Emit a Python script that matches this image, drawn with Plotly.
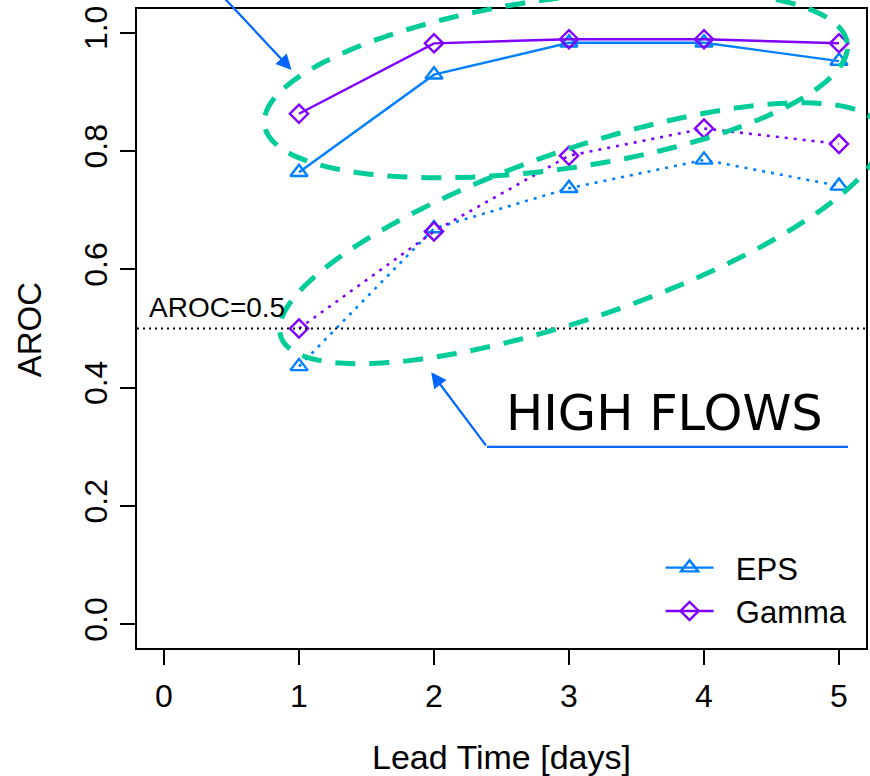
import numpy as np
import plotly.graph_objects as go

# ---------------- data ----------------
lead_time = [1, 2, 3, 4, 5]
eps_low = [0.764, 0.929, 0.983, 0.983, 0.952]      # solid (upper group)
gamma_low = [0.863, 0.982, 0.989, 0.989, 0.982]
eps_high = [0.436, 0.669, 0.737, 0.785, 0.741]     # dotted (HIGH FLOWS)
gamma_high = [0.500, 0.664, 0.792, 0.838, 0.812]
x_ticks = [0, 1, 2, 3, 4, 5]
y_ticks = [0.0, 0.2, 0.4, 0.6, 0.8, 1.0]
y_tick_labels = ["0.0", "0.2", "0.4", "0.6", "0.8", "1.0"]
ref_level = 0.5

# ---------------- layout constants ----------------
W, H = 870, 776
ML, MR, MT, MB = 137, 2, 9, 128
PW, PH = W - ML - MR, H - MT - MB
XR = [-0.2, 5.2]
YR = [-0.04, 1.04]

EPS_C = "#0080ff"
GAM_C = "#8000ff"
ELL_C = "#00cc99"
ARR_C = "#0066ff"
FONT = "Liberation Sans, Arial, sans-serif"
NB = "\u00a0"


def data_to_px(x, y):
    px = ML + (x - XR[0]) / (XR[1] - XR[0]) * PW
    py = MT + (YR[1] - y) / (YR[1] - YR[0]) * PH
    return px, py


def px_to_paper(px, py):
    return (px - ML) / PW, (H - MB - py) / PH


def ellipse_path(cx, cy, a, b, ang_deg, n=240):
    pcx, pcy = data_to_px(cx, cy)
    th = np.deg2rad(ang_deg)
    t = np.linspace(0, 2 * np.pi, n, endpoint=False)
    dx = a * np.cos(t) * np.cos(th) - b * np.sin(t) * np.sin(th)
    dy = a * np.cos(t) * np.sin(th) + b * np.sin(t) * np.cos(th)
    xs, ys = px_to_paper(pcx + dx, pcy - dy)
    pts = [f"{x:.5f},{y:.5f}" for x, y in zip(xs, ys)]
    return "M" + " L".join(pts) + " Z"


fig = go.Figure()

fig.add_trace(go.Scatter(
    x=lead_time, y=eps_low, mode="lines+markers", name=NB * 2 + "EPS",
    line=dict(color=EPS_C, width=2.4),
    marker=dict(symbol="triangle-up-open", size=15, color=EPS_C, line=dict(width=2.4, color=EPS_C)),
))
fig.add_trace(go.Scatter(
    x=lead_time, y=gamma_low, mode="lines+markers", name=NB * 2 + "Gamma",
    line=dict(color=GAM_C, width=2.4),
    marker=dict(symbol="diamond-open", size=14, color=GAM_C, line=dict(width=2.4, color=GAM_C)),
))
fig.add_trace(go.Scatter(
    x=lead_time, y=eps_high, mode="lines+markers", name="EPS high", showlegend=False,
    line=dict(color=EPS_C, width=2.6, dash="3px,6px"),
    marker=dict(symbol="triangle-up-open", size=15, color=EPS_C, line=dict(width=2.4, color=EPS_C)),
))
fig.add_trace(go.Scatter(
    x=lead_time, y=gamma_high, mode="lines+markers", name="Gamma high", showlegend=False,
    line=dict(color=GAM_C, width=2.6, dash="3px,6px"),
    marker=dict(symbol="diamond-open", size=14, color=GAM_C, line=dict(width=2.4, color=GAM_C)),
))

shapes = [
    # AROC = 0.5 reference line
    dict(type="line", xref="paper", yref="y", x0=0, x1=1, y0=ref_level, y1=ref_level,
         line=dict(color="black", width=1.8, dash="2px,4px")),
    # ellipses
    dict(type="path", xref="paper", yref="paper", path=ellipse_path(2.903, 0.913, 295, 85, 8),
         line=dict(color=ELL_C, width=5, dash="20px,14px")),
    dict(type="path", xref="paper", yref="paper", path=ellipse_path(3.087, 0.661, 318, 84, 19),
         line=dict(color=ELL_C, width=5, dash="20px,14px")),
    # HIGH FLOWS underline
    dict(type="line", xref="x", yref="y", x0=2.393, x1=5.066, y0=0.30, y1=0.30,
         line=dict(color=ARR_C, width=2.2)),
]

annotations = [
    dict(text="AROC=0.5", xref="paper", yref="y", x=(147 - ML) / PW, y=ref_level,
         xanchor="left", yanchor="bottom", yshift=4, showarrow=False,
         font=dict(family=FONT, size=28, color="black")),
    dict(text="HIGH FLOWS", xref="x", yref="y", x=3.71, y=0.357,
         xanchor="center", yanchor="middle", showarrow=False,
         font=dict(family="DejaVu Sans, Verdana, sans-serif", size=49.5, color="black")),
    # arrows
    dict(text="", xref="x", yref="y", x=1.979, y=0.426, axref="x", ayref="y", ax=2.393, ay=0.30,
         showarrow=True, arrowhead=2, arrowsize=1.4, arrowwidth=2.2, arrowcolor=ARR_C, standoff=0),
    dict(text="", xref="x", yref="y", x=0.945, y=0.937, axref="x", ayref="y", ax=0.42, ay=1.065,
         showarrow=True, arrowhead=2, arrowsize=1.4, arrowwidth=2.2, arrowcolor=ARR_C, standoff=0),
    # axis titles
    dict(text="Lead Time [days]", xref="paper", yref="paper", x=0.5, y=px_to_paper(0, 757)[1],
         xanchor="center", yanchor="middle", showarrow=False,
         font=dict(family=FONT, size=34, color="black")),
    dict(text="AROC", xref="paper", yref="paper", x=px_to_paper(30, 0)[0], y=px_to_paper(0, 330)[1],
         xanchor="center", yanchor="middle", textangle=-90, showarrow=False,
         font=dict(family=FONT, size=33, color="black")),
]

fig.update_layout(
    width=W, height=H,
    margin=dict(l=ML, r=MR, t=MT, b=MB),
    paper_bgcolor="white", plot_bgcolor="white",
    shapes=shapes, annotations=annotations,
    showlegend=True,
    legend=dict(x=px_to_paper(662, 0)[0], y=px_to_paper(0, 541)[1], xanchor="left", yanchor="top",
                bgcolor="rgba(0,0,0,0)", font=dict(family=FONT, size=31, color="black"),
                itemwidth=48, tracegroupgap=0),
    xaxis=dict(range=XR, tickvals=x_ticks, ticks="outside", ticklen=15, tickwidth=1.5,
               tickcolor="black", showline=True, mirror=True, linecolor="black", linewidth=1.8,
               showgrid=False, zeroline=False, ticklabelstandoff=4,
               tickfont=dict(family=FONT, size=32, color="black")),
    yaxis=dict(range=YR, tickvals=y_ticks, ticktext=y_tick_labels, ticks="outside", ticklen=15,
               tickwidth=1.5, tickcolor="black", showline=True, mirror=True, linecolor="black",
               linewidth=1.8, showgrid=False, zeroline=False, tickangle=-90,
               tickfont=dict(family=FONT, size=32, color="black")),
)

fig.write_html("out.html", config={"displayModeBar": False},
               post_script="document.body.style.margin='0';")
